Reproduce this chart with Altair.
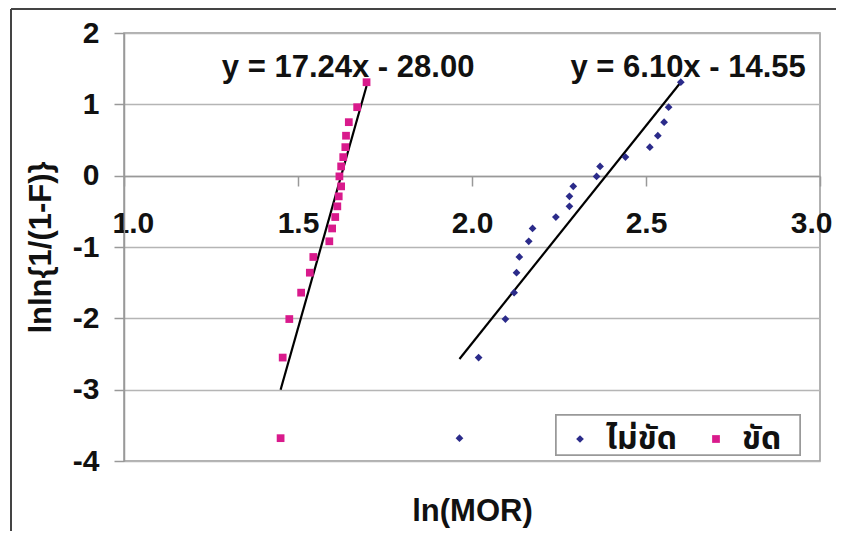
import altair as alt
import pandas as pd

# ---- data ----
series_names = ["ไม่ขัด", "ขัด"]
y_vals = [-3.68, -2.55, -2.01, -1.64, -1.36, -1.14, -0.92, -0.74, -0.58, -0.43,
          -0.29, -0.15, -0.01, 0.13, 0.26, 0.40, 0.56, 0.75, 0.96, 1.31]
x_unpolished = [1.964, 2.019, 2.096, 2.121, 2.128, 2.136, 2.163, 2.174, 2.241, 2.280,
                2.280, 2.291, 2.358, 2.368, 2.441, 2.511, 2.534, 2.552, 2.565, 2.600]
x_polished = [1.450, 1.456, 1.475, 1.509, 1.534, 1.544, 1.590, 1.598, 1.607, 1.613,
              1.617, 1.624, 1.619, 1.624, 1.630, 1.636, 1.638, 1.646, 1.670, 1.697]
slopes = [6.10, 17.24]
intercepts = [-14.55, -28.00]
eq_labels = ["y = 6.10x - 14.55", "y = 17.24x - 28.00"]
eq_x = [2.621, 1.644]
eq_y = [1.51, 1.51]
x_ticks = [1.0, 1.5, 2.0, 2.5, 3.0]
y_ticks = [-4, -3, -2, -1, 0, 1, 2]
colors = ["#2b2b8a", "#d91a8c"]
shapes = ["diamond", "square"]

# ---- tables ----
pts = pd.DataFrame({
    "x": x_unpolished + x_polished,
    "y": y_vals + y_vals,
    "series": [series_names[0]] * len(x_unpolished) + [series_names[1]] * len(x_polished),
})
xs_by_series = [x_unpolished, x_polished]
line_rows = []
for name, xs, m, b in zip(series_names, xs_by_series, slopes, intercepts):
    for xv in (min(xs), max(xs)):
        line_rows.append({"series": name, "x": xv, "y": m * xv + b})
lines = pd.DataFrame(line_rows)
eqs = pd.DataFrame({"label": eq_labels, "x": eq_x, "y": eq_y})

W, H = 696, 428
FONT = "Liberation Sans, Arial, Noto Sans Thai, Loma, Garuda, sans-serif"

xscale = alt.Scale(domain=[1.0, 3.0], nice=False, zero=False)
yscale = alt.Scale(domain=[-4, 2], nice=False, zero=False)

legend = alt.Legend(title=None, orient="none", legendX=432, legendY=382,
                    direction="horizontal")

points = alt.Chart(pts).mark_point(filled=True, opacity=1).encode(
    x=alt.X("x:Q", scale=xscale,
            axis=alt.Axis(values=x_ticks, labelExpr="format(datum.value, '.1f')",
                          title="ln(MOR)", offset=-285,
                          labelFlush=True, labelFlushOffset=12,
                          grid=False, tickSize=10, labelPadding=22,
                          titleY=335, titleBaseline="middle")),
    y=alt.Y("y:Q", scale=yscale,
            axis=alt.Axis(values=y_ticks, labelExpr="'' + datum.value",
                          title="lnln{1/(1-F)}", labelFlush=False,
                          grid=True, tickSize=10, labelPadding=15,
                          titleX=-83, titleY=214, titleBaseline="middle")),
    color=alt.Color("series:N", scale=alt.Scale(domain=series_names, range=colors),
                    legend=legend),
    shape=alt.Shape("series:N", scale=alt.Scale(domain=series_names, range=shapes),
                    legend=legend),
    size=alt.value(60),
)

trend = alt.Chart(lines).mark_line(color="black", strokeWidth=2.2).encode(
    x=alt.X("x:Q", scale=xscale),
    y=alt.Y("y:Q", scale=yscale),
    detail="series:N",
)

texts = alt.Chart(eqs).mark_text(font=FONT, fontSize=31, fontWeight="bold",
                                 color="#111", baseline="middle").encode(
    x=alt.X("x:Q", scale=xscale),
    y=alt.Y("y:Q", scale=yscale),
    text="label:N",
)

frame_left = alt.Chart(pts).mark_rule(color="#444", strokeWidth=2).encode(
    x=alt.value(-113), y=alt.value(-24), y2=alt.value(H + 80))
frame_top = alt.Chart(pts).mark_rule(color="#444", strokeWidth=2).encode(
    x=alt.value(-113), x2=alt.value(W + 30), y=alt.value(-24))
legend_box = alt.Chart(pts).mark_rect(fill="white", stroke="#999", strokeWidth=1.5).encode(
    x=alt.value(432), x2=alt.value(676), y=alt.value(382), y2=alt.value(422))

chart = alt.layer(frame_left, frame_top, trend, points, texts, legend_box).properties(
    width=W, height=H,
    autosize=alt.AutoSizeParams(type="none"),
    padding={"left": 116, "top": 25, "right": 16, "bottom": 70},
    background="white",
).configure_view(
    stroke="#999", strokeWidth=1.5,
).configure_axis(
    labelFont=FONT, titleFont=FONT, labelFontSize=30, titleFontSize=31,
    labelFontWeight="bold", titleFontWeight="bold",
    labelColor="#111", titleColor="#111",
    domainColor="#999", tickColor="#999", gridColor="#b5b5b5", gridWidth=1.5,
    domainWidth=1.5, tickWidth=1.5,
).configure_legend(
    labelFont=FONT, labelFontSize=32, labelFontWeight="bold", labelColor="#111",
    padding=8, symbolSize=60, columnPadding=22, symbolStrokeWidth=0, labelOffset=10,
)

chart.save("out.html", embed_options={"renderer": "svg", "actions": False})
